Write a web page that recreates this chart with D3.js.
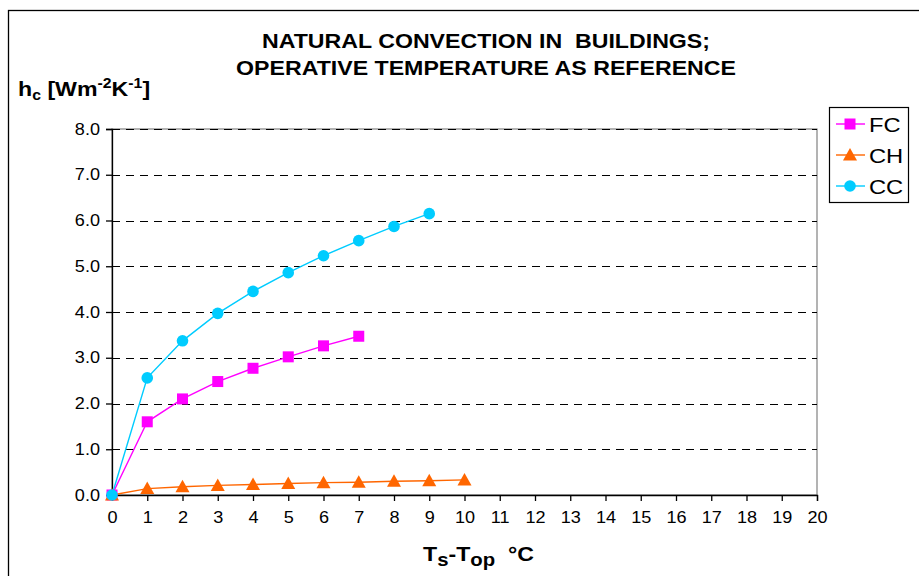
<!DOCTYPE html>
<html>
<head>
<meta charset="utf-8">
<script src="https://cdn.jsdelivr.net/npm/d3@7"></script>
<style>
  body { margin: 0; background: #fff; }
  svg { display: block; font-family: "Liberation Sans", Arial, sans-serif; }
</style>
</head>
<body>
<div id="chart"></div>
<script>
// values
const fcX = [0, 1, 2, 3, 4, 5, 6, 7];
const fcY = [0, 1.60, 2.10, 2.48, 2.77, 3.02, 3.26, 3.47];
const chX = [0, 1, 2, 3, 4, 5, 6, 7, 8, 9, 10];
const chY = [0, 0.14, 0.18, 0.21, 0.23, 0.25, 0.27, 0.28, 0.30, 0.31, 0.33];
const ccX = [0, 1, 2, 3, 4, 5, 6, 7, 8, 9];
const ccY = [0, 2.56, 3.37, 3.97, 4.45, 4.86, 5.23, 5.56, 5.87, 6.15];
const xTicks = d3.range(0, 21);
const yTicks = [0, 1, 2, 3, 4, 5, 6, 7, 8];

const series = [
  { name: "FC", xs: fcX, ys: fcY, color: "#ff00ff", shape: "square" },
  { name: "CH", xs: chX, ys: chY, color: "#ff6600", shape: "triangle" },
  { name: "CC", xs: ccX, ys: ccY, color: "#00ccff", shape: "circle" }
];

const W = 919, H = 576;
const plot = { left: 112, right: 817, top: 129, bottom: 495 };
const SX = 1.13; // the reference text is drawn slightly wide

const svg = d3.select("#chart").append("svg")
  .attr("width", W).attr("height", H);

// outer chart frame (runs off the right/bottom edge)
svg.append("rect")
  .attr("x", 8.5).attr("y", 10.5)
  .attr("width", W + 20).attr("height", H + 20)
  .attr("fill", "#fff").attr("stroke", "#000").attr("stroke-width", 1.3);

const x = d3.scaleLinear().domain([0, 20]).range([plot.left, plot.right]);
const y = d3.scaleLinear().domain([0, 8]).range([plot.bottom, plot.top]);

// plot area border
svg.append("rect")
  .attr("x", plot.left).attr("y", plot.top)
  .attr("width", plot.right - plot.left).attr("height", plot.bottom - plot.top)
  .attr("fill", "none").attr("stroke", "#808080").attr("stroke-width", 1.2);

// dashed gridlines
svg.append("g")
  .selectAll("line")
  .data(yTicks.filter((d) => d > 0))
  .join("line")
  .attr("x1", plot.left).attr("x2", plot.right)
  .attr("y1", (d) => Math.round(y(d)) + 0.5).attr("y2", (d) => Math.round(y(d)) + 0.5)
  .attr("stroke", "#000").attr("stroke-width", 1)
  .attr("stroke-dasharray", "8,6");

// axes
svg.append("g")
  .attr("transform", `translate(${plot.left},0)`)
  .call(d3.axisLeft(y).tickValues(yTicks).tickFormat(d3.format(".1f")).tickSize(6).tickPadding(0))
  .call((g) => g.selectAll("line, path").attr("stroke", "#000").attr("stroke-width", 1.3))
  .call((g) => g.selectAll("text").attr("font-size", 16).attr("fill", "#000")
    .attr("x", -12 / SX).attr("transform", `scale(${SX},1)`)
    .attr("font-family", "Liberation Sans, Arial, sans-serif"));

svg.append("g")
  .attr("transform", `translate(0,${plot.bottom})`)
  .call(d3.axisBottom(x).tickValues(xTicks).tickFormat(d3.format("d")).tickSize(6).tickPadding(11))
  .call((g) => g.selectAll("line, path").attr("stroke", "#000").attr("stroke-width", 1.3))
  .call((g) => g.selectAll("text").attr("font-size", 16).attr("fill", "#000")
    .attr("transform", `scale(${SX},1)`)
    .attr("font-family", "Liberation Sans, Arial, sans-serif"));

function drawMarker(g, shape, color) {
  if (shape === "square") {
    g.append("rect").attr("x", -5.5).attr("y", -5.5).attr("width", 11).attr("height", 11).attr("fill", color);
  } else if (shape === "triangle") {
    g.append("path").attr("d", "M0,-7L7,5.5L-7,5.5Z").attr("fill", color);
  } else {
    g.append("circle").attr("r", 5.8).attr("fill", color);
  }
}

const line = d3.line().x((d) => x(d[0])).y((d) => y(d[1]));

series.forEach((s) => {
  const pts = s.xs.map((v, i) => [v, s.ys[i]]);
  svg.append("path")
    .attr("d", line(pts))
    .attr("fill", "none").attr("stroke", s.color).attr("stroke-width", 1.4);
});
series.forEach((s) => {
  s.xs.forEach((v, i) => {
    const g = svg.append("g").attr("transform", `translate(${x(v)},${y(s.ys[i])})`);
    drawMarker(g, s.shape, s.color);
  });
});

// stretched text group helper
function textAt(px, py) {
  return svg.append("g").attr("transform", `translate(${px},${py}) scale(${SX},1)`)
    .append("text").attr("fill", "#000");
}

// titles
textAt(486, 48).attr("text-anchor", "middle").attr("font-weight", "bold").attr("font-size", 20.5)
  .style("white-space", "pre").text("NATURAL CONVECTION IN  BUILDINGS;");
textAt(486, 75).attr("text-anchor", "middle").attr("font-weight", "bold").attr("font-size", 20.5)
  .text("OPERATIVE TEMPERATURE AS REFERENCE");

const yl = textAt(18, 96).attr("font-weight", "bold").attr("font-size", 20.5);
yl.append("tspan").text("h");
yl.append("tspan").attr("font-size", 14).attr("dy", 4).text("c");
yl.append("tspan").attr("dy", -4).text(" [Wm");
yl.append("tspan").attr("font-size", 14).attr("dy", -8).text("-2");
yl.append("tspan").attr("dy", 8).text("K");
yl.append("tspan").attr("font-size", 14).attr("dy", -8).text("-1");
yl.append("tspan").attr("dy", 8).text("]");

const xl = textAt(423, 561).attr("font-weight", "bold").attr("font-size", 20.5)
  .style("white-space", "pre");
xl.append("tspan").text("T");
xl.append("tspan").attr("font-size", 18).attr("dy", 5).text("s");
xl.append("tspan").attr("dy", -5).text("-T");
xl.append("tspan").attr("font-size", 18).attr("dy", 5).text("op");
xl.append("tspan").attr("dy", -5).text("  °C");

// legend
const legend = svg.append("g");
legend.append("rect")
  .attr("x", 829.5).attr("y", 107.5).attr("width", 79).attr("height", 95)
  .attr("fill", "#fff").attr("stroke", "#000").attr("stroke-width", 1.2);
series.forEach((s, i) => {
  const ly = 124 + i * 31;
  legend.append("line").attr("x1", 836).attr("x2", 865).attr("y1", ly).attr("y2", ly)
    .attr("stroke", s.color).attr("stroke-width", 1.4);
  const g = legend.append("g").attr("transform", `translate(850,${ly})`);
  drawMarker(g, s.shape, s.color);
  textAt(869, ly + 7.5).attr("font-size", 21).text(s.name);
});
</script>
</body>
</html>
